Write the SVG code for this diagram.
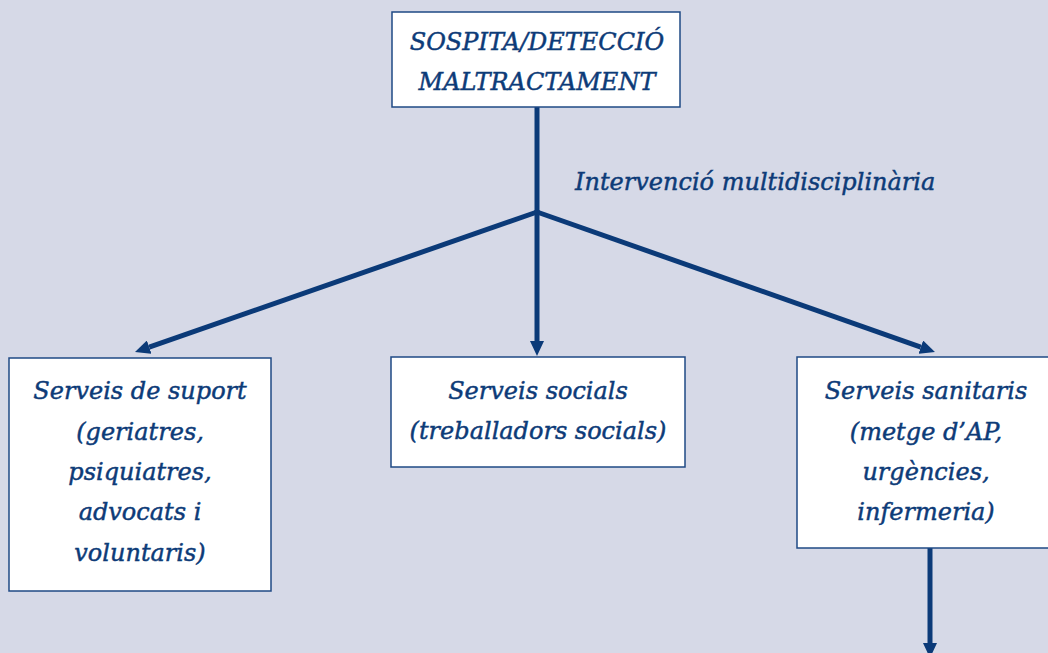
<svg xmlns="http://www.w3.org/2000/svg" width="1048" height="653" viewBox="0 0 1048 653">
<style>
.bg{fill:#d6d9e7}
.box{fill:#ffffff;stroke:#1f4a85;stroke-width:1.5}
.t{font-family:"DejaVu Serif","Liberation Serif",serif;font-style:italic;font-size:24px;fill:#0d3b78;stroke:#0d3b78;stroke-width:0.45;text-anchor:middle}
.lbl{text-anchor:start}
.c{stroke:#0b3a78;stroke-width:5;fill:none}
</style>
<defs>
<marker id="ah" markerUnits="userSpaceOnUse" markerWidth="15" markerHeight="14" refX="0" refY="7" orient="auto">
<path d="M0,0 L15,7 L0,14 z" fill="#0b3a78"/>
</marker>
</defs>
<rect class="bg" x="0" y="0" width="1048" height="653"/>
<g id="connectors">
<line class="c" x1="537" y1="107" x2="537" y2="212"/>
<line class="c" x1="537" y1="212" x2="149.2" y2="347.1" marker-end="url(#ah)"/>
<line class="c" x1="537" y1="210" x2="537" y2="341" marker-end="url(#ah)"/>
<line class="c" x1="537" y1="212" x2="920.8" y2="347.1" marker-end="url(#ah)"/>
<line class="c" x1="930" y1="548" x2="930" y2="643" marker-end="url(#ah)"/>
</g>
<g id="label">
<text class="t lbl" x="575" y="190">Intervenció multidisciplinària</text>
</g>
<g id="top">
<rect class="box" x="392" y="12" width="288" height="95"/>
<text class="t" x="537" y="50">SOSPITA/DETECCIÓ</text>
<text class="t" x="537" y="90">MALTRACTAMENT</text>
</g>
<g id="suport">
<rect class="box" x="9" y="358" width="262" height="233"/>
<text class="t" x="140" y="399">Serveis de suport</text>
<text class="t" x="140" y="440">(geriatres,</text>
<text class="t" x="140" y="480">psiquiatres,</text>
<text class="t" x="140" y="520">advocats i</text>
<text class="t" x="140" y="561">voluntaris)</text>
</g>
<g id="socials">
<rect class="box" x="391" y="357" width="294" height="110"/>
<text class="t" x="538" y="399">Serveis socials</text>
<text class="t" x="538" y="439">(treballadors socials)</text>
</g>
<g id="sanitaris">
<rect class="box" x="797" y="357" width="258" height="191"/>
<text class="t" x="926" y="399">Serveis sanitaris</text>
<text class="t" x="926" y="440">(metge d’AP,</text>
<text class="t" x="926" y="480">urgències,</text>
<text class="t" x="926" y="520">infermeria)</text>
</g>
</svg>
